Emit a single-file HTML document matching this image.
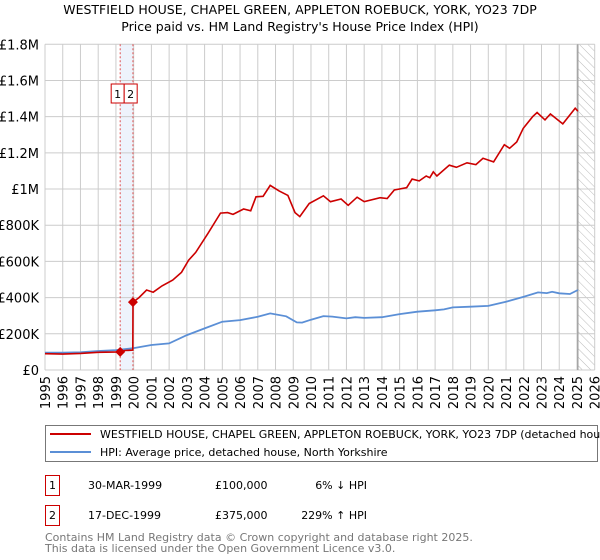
<!DOCTYPE html>
<html><head><meta charset="utf-8"><style>
body{margin:0;background:#fff;font-family:"Liberation Sans","DejaVu Sans",sans-serif;}
svg{display:block}
</style></head><body>
<svg id="c" width="600" height="560" xmlns="http://www.w3.org/2000/svg" font-family="DejaVu Sans, Liberation Sans, sans-serif">
<defs><pattern id="hatch" width="6" height="6" patternUnits="userSpaceOnUse" patternTransform="rotate(-45)"><line x1="0" y1="0" x2="0" y2="6" stroke="#bbb" stroke-width="1"/></pattern></defs>
<text x="300" y="14" text-anchor="middle" font-size="12.5" fill="#000">WESTFIELD HOUSE, CHAPEL GREEN, APPLETON ROEBUCK, YORK, YO23 7DP</text>
<text x="300" y="31" text-anchor="middle" font-size="12.5" fill="#000">Price paid vs. HM Land Registry's House Price Index (HPI)</text>
<g id="grid"></g><g id="marks"></g><g id="axes"></g>
<rect x="45.5" y="425.5" width="552" height="36" fill="#fff" stroke="#777"/>
<line x1="50" y1="434" x2="91" y2="434" stroke="#cc0000" stroke-width="2"/>
<text x="100" y="438" font-size="11">WESTFIELD HOUSE, CHAPEL GREEN, APPLETON ROEBUCK, YORK, YO23 7DP (detached house)</text>
<line x1="50" y1="452" x2="91" y2="452" stroke="#5b8fd6" stroke-width="2"/>
<text x="100" y="456" font-size="11">HPI: Average price, detached house, North Yorkshire</text>
<g font-size="11">
<rect x="45.5" y="475.5" width="14" height="20" fill="#fff" stroke="#cc0000"/>
<text x="52.5" y="489" text-anchor="middle">1</text>
<text x="88" y="489">30-MAR-1999</text>
<text x="215" y="489">£100,000</text>
<text x="367" y="489" text-anchor="end">6% ↓ HPI</text>
<rect x="45.5" y="505.5" width="14" height="20" fill="#fff" stroke="#cc0000"/>
<text x="52.5" y="519" text-anchor="middle">2</text>
<text x="88" y="519">17-DEC-1999</text>
<text x="215" y="519">£375,000</text>
<text x="367" y="519" text-anchor="end">229% ↑ HPI</text>
</g>
<text x="45" y="541" font-size="11" fill="#777">Contains HM Land Registry data © Crown copyright and database right 2025.</text>
<text x="45" y="552" font-size="11" fill="#777">This data is licensed under the Open Government Licence v3.0.</text>
</svg>
<script>
const yTicks=[0,200000,400000,600000,800000,1000000,1200000,1400000,1600000,1800000];
const yTickLabels=["£0","£200K","£400K","£600K","£800K","£1M","£1.2M","£1.4M","£1.6M","£1.8M"];
const xYears=[1995,1996,1997,1998,1999,2000,2001,2002,2003,2004,2005,2006,2007,2008,2009,2010,2011,2012,2013,2014,2015,2016,2017,2018,2019,2020,2021,2022,2023,2024,2025,2026];
const hpiT=[1995,1996,1997,1998,1999,2000,2001,2002,2003,2004,2005,2006,2007,2007.7,2008.6,2009.2,2009.5,2010,2010.7,2011.2,2012,2012.5,2013,2014,2015,2016,2017,2017.5,2018,2019,2020,2021,2022,2022.8,2023.3,2023.6,2024,2024.6,2025.05];
const hpiV=[96,96,98,105,110,121,138,147,193,230,267,276,294,313,297,263,262,278,298,295,285,292,288,292,309,322,330,335,346,350,354,377,405,429,425,432,424,420,442];
const redT=[1995,1996,1997,1998,1999.24,1999.5,1999.95,1999.96,2000.3,2000.73,2001.1,2001.6,2002.2,2002.7,2003.1,2003.5,2004.2,2004.9,2005.3,2005.6,2006.2,2006.6,2006.9,2007.3,2007.7,2008.2,2008.7,2009.1,2009.37,2009.9,2010.7,2011.1,2011.7,2012.1,2012.6,2013.0,2013.9,2014.3,2014.7,2015.4,2015.7,2016.1,2016.5,2016.7,2016.9,2017.1,2017.8,2018.2,2018.8,2019.3,2019.7,2020.3,2020.9,2021.2,2021.6,2021.97,2022.5,2022.75,2023.2,2023.5,2024.2,2024.9,2025.05];
const redV=[90,88,92,98,100,108,110,375,400,442,430,465,497,540,607,650,756,867,870,860,890,880,957,960,1020,990,965,870,848,920,963,930,945,910,955,930,952,948,995,1008,1055,1045,1072,1063,1095,1072,1132,1120,1145,1135,1170,1150,1245,1225,1260,1335,1400,1423,1382,1415,1360,1447,1430];
const saleT=[1999.24,1999.96];
const saleV=[100,375];
const NS="http://www.w3.org/2000/svg";
const X0=45,X1=594.7,Y0=370,Y1=44.3;
const xs=t=>X0+(t-1995)/(2026-1995)*(X1-X0);
const ys=v=>Y0-v/1800000*(Y0-Y1);
function mk(tag,attrs,parent){const e=document.createElementNS(NS,tag);for(const k in attrs)e.setAttribute(k,attrs[k]);parent.appendChild(e);return e;}
const grid=document.getElementById('grid'),marks=document.getElementById('marks'),axes=document.getElementById('axes');
// shaded band & hatch
let band=mk('rect',{x:xs(saleT[0]),y:Y1,width:xs(saleT[1])-xs(saleT[0]),height:Y0-Y1,fill:'#eef3fc'},grid);


let hat=mk('rect',{x:xs(2025.05),y:Y1,width:X1-xs(2025.05),height:Y0-Y1,fill:'url(#hatch)'},grid);


yTicks.forEach((v,i)=>{
 let l=mk('line',{x1:X0,x2:X1,y1:ys(v),y2:ys(v),stroke:'#ccc','stroke-width':1},grid);
 
 
 let t=mk('text',{x:39,y:ys(v)+5,'text-anchor':'end','font-size':'13'},axes);
 t.textContent=yTickLabels[i];
 
 
});
xYears.forEach(y=>{
 let l=mk('line',{x1:xs(y),x2:xs(y),y1:Y1,y2:Y0,stroke:'#ccc','stroke-width':1},grid);
 
 
 let t=mk('text',{x:0,y:0,'text-anchor':'end','font-size':'13',transform:`translate(${xs(y)+5},376) rotate(-90)`},axes);
 t.textContent=y;
 
 
});
let nl=mk('line',{x1:xs(2025.05),x2:xs(2025.05),y1:Y1,y2:Y0,stroke:'#999','stroke-width':1.2},grid);


saleT.forEach((t,i)=>{
 let l=mk('line',{x1:xs(t),x2:xs(t),y1:Y1,y2:Y0,stroke:'#e05050','stroke-width':1,'stroke-dasharray':'2,2'},grid);
 
 
});
const pts=(T,V)=>T.map((t,i)=>xs(t).toFixed(1)+','+ys(V[i]*1000).toFixed(1)).join(' ');
let hp=mk('polyline',{points:pts(hpiT,hpiV),fill:'none',stroke:'#5b8fd6','stroke-width':1.8},marks);


let rp=mk('polyline',{points:pts(redT,redV),fill:'none',stroke:'#cc0000','stroke-width':1.6},marks);


saleT.forEach((t,i)=>{
 let cx=xs(t),cy=ys(saleV[i]*1000);
 let d=mk('polygon',{points:`${cx},${cy-5} ${cx+5},${cy} ${cx},${cy+5} ${cx-5},${cy}`,fill:'#cc0000'},marks);
 
 
 let bx=i==0?cx-8.5:cx-5.5;
 let r=mk('rect',{x:i==0?xs(saleT[0])-9:xs(saleT[0])+4,y:84,width:13,height:19,fill:'#fff',stroke:'#cc0000','stroke-width':1},marks);
 
 
 let tx=mk('text',{x:(i==0?xs(saleT[0])-9:xs(saleT[0])+4)+6.5,y:98,'text-anchor':'middle','font-size':'11'},marks);
 tx.textContent=String(i+1);
 
 
});
</script>
</body></html>
